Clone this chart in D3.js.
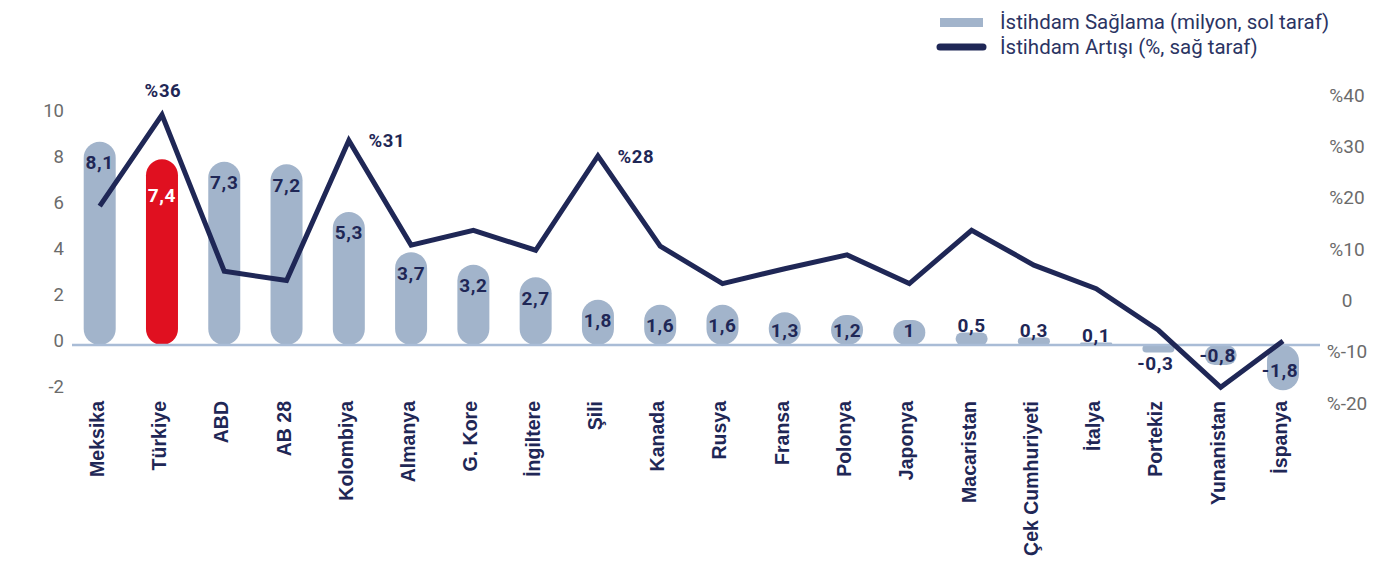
<!DOCTYPE html>
<html>
<head>
<meta charset="utf-8">
<script src="https://cdn.jsdelivr.net/npm/d3@7"></script>
<style>
  html, body { margin: 0; padding: 0; background: #fff; }
  svg { display: block; }
</style>
</head>
<body>
<svg id="chart" width="1387" height="566"></svg>
<script>
// ---- data ----
const categories = ["Meksika","Türkiye","ABD","AB 28","Kolombiya","Almanya","G. Kore","İngiltere","Şili","Kanada","Rusya","Fransa","Polonya","Japonya","Macaristan","Çek Cumhuriyeti","İtalya","Portekiz","Yunanistan","İspanya"];
const jobsCreated = [8.1, 7.4, 7.3, 7.2, 5.3, 3.7, 3.2, 2.7, 1.8, 1.6, 1.6, 1.3, 1.2, 1, 0.5, 0.3, 0.1, -0.3, -0.8, -1.8];
const jobsGrowth = [18.2, 36, 5.5, 3.7, 31, 10.6, 13.5, 9.6, 28, 10.4, 3.1, 6.0, 8.7, 3.1, 13.5, 6.7, 2.1, -6.0, -17.1, -8.1];
const growthLabels = ["", "%36", "", "", "%31", "", "", "", "%28", "", "", "", "", "", "", "", "", "", "", ""];
const highlighted = ["Türkiye"];
const leftTicks = [-2, 0, 2, 4, 6, 8, 10];
const rightTicks = [-20, -10, 0, 10, 20, 30, 40];
const rightTickLabels = ["%-20", "%-10", "0", "%10", "%20", "%30", "%40"];
const legendLabels = ["İstihdam Sağlama (milyon, sol taraf)", "İstihdam Artışı (%, sağ taraf)"];

// ---- style ----
const barColor = "#a2b4cb", redColor = "#e01020", navy = "#1f2756", gray = "#6b6b6b";
const baseColor = "#a9bcd6";

const svg = d3.select("#chart");

// ---- scales ----
const x = d3.scalePoint().domain(categories).range([99.7, 1283]);
const barW = 32;
const yBar = d3.scaleLinear().domain([0, 10]).range([345, 94]);       // bars
const yLeftAxis = d3.scaleLinear().domain([-2, 10]).range([387, 111]); // left tick labels
const yRight = d3.scaleLinear().domain([-20, 40]).range([402.1, 94.3]);

const fmt = v => String(v).replace(".", ",");

// ---- left axis labels ----
svg.append("g").selectAll("text").data(leftTicks).join("text")
  .attr("x", 64).attr("y", d => yLeftAxis(d))
  .attr("text-anchor", "end").attr("dominant-baseline", "central")
  .attr("font-family", "Roboto, sans-serif").attr("font-size", 18.5)
  .attr("fill", gray).text(d => d);

// ---- right axis labels ----
svg.append("g").selectAll("text").data(rightTicks).join("text")
  .attr("x", 1347).attr("y", d => yRight(d) + 1)
  .attr("text-anchor", "middle").attr("dominant-baseline", "central")
  .attr("font-family", "Roboto, sans-serif").attr("font-size", 19)
  .attr("fill", gray).text((d, i) => rightTickLabels[i]);

// ---- bars ----
const bars = categories.map((c, i) => ({ c, v: jobsCreated[i] }));
svg.append("g").selectAll("rect").data(bars).join("rect")
  .attr("x", d => x(d.c) - barW / 2)
  .attr("width", barW)
  .attr("y", d => Math.min(yBar(d.v), yBar(0)))
  .attr("height", d => Math.abs(yBar(d.v) - yBar(0)))
  .attr("rx", d => Math.min(barW / 2, Math.abs(yBar(d.v) - yBar(0)) / 2))
  .attr("fill", d => highlighted.includes(d.c) ? redColor : barColor);

// ---- baseline ----
svg.append("line")
  .attr("x1", 72).attr("x2", 1320)
  .attr("y1", yBar(0)).attr("y2", yBar(0))
  .attr("stroke", baseColor).attr("stroke-width", 2.5);

// ---- growth line ----
const lineData = categories.map((c, i) => ({ c, v: jobsGrowth[i], label: growthLabels[i] }));
svg.append("path").datum(lineData)
  .attr("d", d3.line().x(d => x(d.c)).y(d => yRight(d.v)))
  .attr("fill", "none").attr("stroke", navy).attr("stroke-width", 5)
  .attr("stroke-linejoin", "miter");

// ---- bar value labels ----
function labelY(d) {
  const top = yBar(d.v), base = yBar(0);
  if (highlighted.includes(d.c)) return top + 36;
  if (d.v >= 1) return Math.min(top + 21, base - 15);
  if (d.v > 0) return top - 7;
  if (d.v > -0.5) return yBar(d.v) + 11;
  return Math.max(yBar(d.v) - 20, base + 10);
}
svg.append("g").selectAll("text").data(bars).join("text")
  .attr("x", d => x(d.c) + (d.v < 0 ? -3 : 0))
  .attr("y", d => labelY(d))
  .attr("text-anchor", "middle").attr("dominant-baseline", "central")
  .attr("font-family", "Roboto, sans-serif").attr("font-weight", 700)
  .attr("font-size", 19).attr("letter-spacing", 0.6)
  .attr("fill", d => highlighted.includes(d.c) ? "#ffffff" : navy)
  .text(d => fmt(d.v));

// ---- growth peak labels ----
const maxG = d3.max(jobsGrowth);
svg.append("g").selectAll("text").data(lineData.filter(d => d.label)).join("text")
  .attr("x", d => d.v === maxG ? x(d.c) + 1 : x(d.c) + 38)
  .attr("y", d => d.v === maxG ? yRight(d.v) - 24 : yRight(d.v) + 1)
  .attr("text-anchor", "middle").attr("dominant-baseline", "central")
  .attr("font-family", "Roboto, sans-serif").attr("font-weight", 700)
  .attr("font-size", 18.5).attr("letter-spacing", 0.6)
  .attr("fill", navy).text(d => d.label);

// ---- x labels ----
svg.append("g").selectAll("text").data(categories).join("text")
  .attr("transform", d => `translate(${x(d) + 4},401) rotate(-90)`)
  .attr("text-anchor", "end")
  .attr("font-family", "'Liberation Sans', Arial, sans-serif").attr("font-weight", 700)
  .attr("font-size", 19.5).attr("fill", navy).text(d => d);

// ---- legend ----
const lg = svg.append("g");
lg.append("rect").attr("x", 940).attr("y", 18).attr("width", 43).attr("height", 9).attr("fill", barColor);
lg.append("line").attr("x1", 940).attr("x2", 983).attr("y1", 47).attr("y2", 47)
  .attr("stroke", navy).attr("stroke-width", 7).attr("stroke-linecap", "round");
lg.selectAll("text").data(legendLabels).join("text")
  .attr("x", 1000).attr("y", (d, i) => 22 + i * 25)
  .attr("dominant-baseline", "central")
  .attr("font-family", "Roboto, sans-serif").attr("font-size", 20.5)
  .attr("fill", "#2b3463").text(d => d);
</script>
</body>
</html>
